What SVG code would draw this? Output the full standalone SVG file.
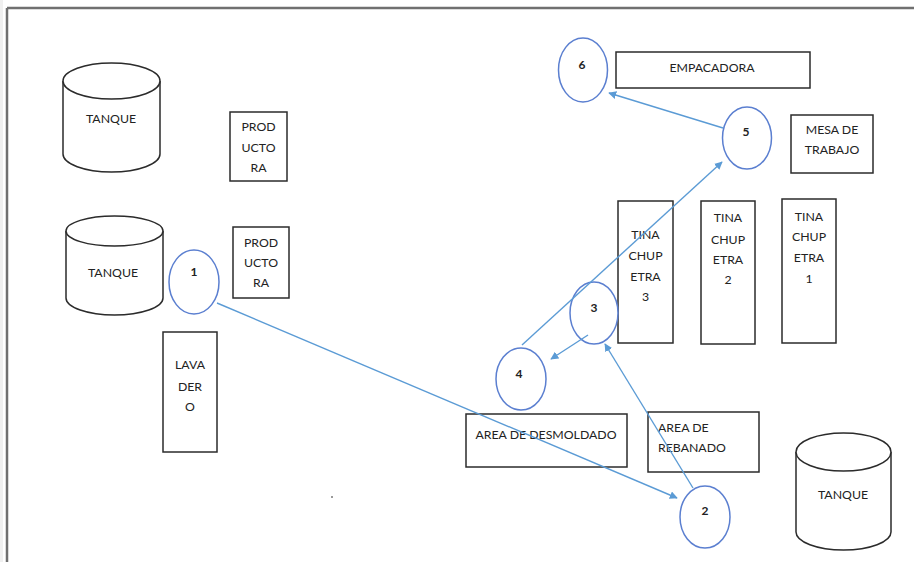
<svg xmlns="http://www.w3.org/2000/svg" width="914" height="562" viewBox="0 0 914 562">
  <style>
    .box { fill: #ffffff; stroke: #2b2b2b; stroke-width: 1.5; }
    .tank { fill: #ffffff; stroke: #2b2b2b; stroke-width: 1.5; }
    .step { fill: #ffffff; stroke: #5b7fd0; stroke-width: 1.5; }
    .lbl { font-family: Lato, "Liberation Sans", sans-serif; font-size: 12.3px; fill: #222222; text-anchor: middle; }
    .num { font-family: Lato, "Liberation Sans", sans-serif; font-size: 12px; font-weight: bold; fill: #222222; text-anchor: middle; }
    .flow { stroke: #5b9bd5; stroke-width: 1.4; fill: none; marker-end: url(#arrow); }
  </style>
  <defs>
    <marker id="arrow" viewBox="0 0 10 10" refX="9" refY="5" markerWidth="8" markerHeight="8" markerUnits="userSpaceOnUse" orient="auto">
      <path d="M0,0 L10,5 L0,10 Z" fill="#5b9bd5"/>
    </marker>
  </defs>

  <rect width="914" height="562" fill="#ffffff"/>
  <!-- page frame -->
  <rect x="0" y="0" width="3" height="562" fill="#f0f0f0"/>
  <line x1="7" y1="8" x2="914" y2="8" stroke="#707070" stroke-width="2.5"/>
  <line x1="7" y1="8" x2="7" y2="562" stroke="#707070" stroke-width="2.5"/>
  <rect x="331" y="496" width="2" height="2" fill="#9a9a9a"/>

  <!-- tanks -->
  <g id="tanque-1">
    <path class="tank" d="M63,81 L63,154 A48.5,18 0 0 0 160,154 L160,81"/>
    <ellipse class="tank" cx="111.5" cy="81" rx="48.5" ry="18"/>
    <text class="lbl" x="111" y="123">TANQUE</text>
  </g>
  <g id="tanque-2">
    <path class="tank" d="M66,231 L66,298 A48.5,17 0 0 0 163,298 L163,231"/>
    <ellipse class="tank" cx="114.5" cy="231" rx="48.5" ry="15"/>
    <text class="lbl" x="113" y="277">TANQUE</text>
  </g>
  <g id="tanque-3">
    <path class="tank" d="M796,452 L796,532 A47.5,18 0 0 0 891,532 L891,452"/>
    <ellipse class="tank" cx="843.5" cy="452" rx="47.5" ry="19"/>
    <text class="lbl" x="843" y="499">TANQUE</text>
  </g>

  <!-- equipment -->
  <g id="productora-1">
    <rect class="box" x="230" y="112" width="57" height="69"/>
    <text class="lbl" x="258.5" y="131">PROD</text>
    <text class="lbl" x="258.5" y="152">UCTO</text>
    <text class="lbl" x="258.5" y="172">RA</text>
  </g>
  <g id="productora-2">
    <rect class="box" x="233" y="227" width="56" height="71"/>
    <text class="lbl" x="261" y="247">PROD</text>
    <text class="lbl" x="261" y="267">UCTO</text>
    <text class="lbl" x="261" y="287">RA</text>
  </g>
  <g id="lavadero">
    <rect class="box" x="163" y="332" width="54" height="120"/>
    <text class="lbl" x="190" y="369">LAVA</text>
    <text class="lbl" x="190" y="391">DER</text>
    <text class="lbl" x="190" y="411">O</text>
  </g>
  <g id="area-desmoldado">
    <rect class="box" x="466" y="414" width="161" height="53"/>
    <text class="lbl" x="546" y="439">AREA DE DESMOLDADO</text>
  </g>
  <g id="area-rebanado">
    <rect class="box" x="648" y="412" width="111" height="60"/>
    <text class="lbl" x="658" y="432" style="text-anchor:start">AREA DE</text>
    <text class="lbl" x="658" y="452" style="text-anchor:start">REBANADO</text>
  </g>
  <g id="tina-3">
    <rect class="box" x="618" y="201" width="55" height="142"/>
    <text class="lbl" x="645.5" y="239">TINA</text>
    <text class="lbl" x="645.5" y="260">CHUP</text>
    <text class="lbl" x="645.5" y="281">ETRA</text>
    <text class="lbl" x="645.5" y="301">3</text>
  </g>
  <g id="tina-2">
    <rect class="box" x="701" y="201" width="54" height="143"/>
    <text class="lbl" x="728" y="222">TINA</text>
    <text class="lbl" x="728" y="244">CHUP</text>
    <text class="lbl" x="728" y="264">ETRA</text>
    <text class="lbl" x="728" y="284">2</text>
  </g>
  <g id="tina-1">
    <rect class="box" x="782" y="199" width="54" height="144"/>
    <text class="lbl" x="809" y="221">TINA</text>
    <text class="lbl" x="809" y="241">CHUP</text>
    <text class="lbl" x="809" y="262">ETRA</text>
    <text class="lbl" x="809" y="283">1</text>
  </g>
  <g id="empacadora">
    <rect class="box" x="616" y="52" width="194" height="36"/>
    <text class="lbl" x="712" y="72">EMPACADORA</text>
  </g>
  <g id="mesa-trabajo">
    <rect class="box" x="791" y="115" width="82" height="58"/>
    <text class="lbl" x="832" y="134">MESA DE</text>
    <text class="lbl" x="832" y="154">TRABAJO</text>
  </g>

  <!-- process steps -->
  <g id="paso-1">
    <ellipse class="step" cx="194" cy="282" rx="25" ry="32"/>
    <text class="num" x="194" y="276">1</text>
  </g>
  <g id="paso-2">
    <ellipse class="step" cx="705" cy="517" rx="25" ry="31"/>
    <text class="num" x="705" y="515">2</text>
  </g>
  <g id="paso-3">
    <ellipse class="step" cx="594" cy="313" rx="24" ry="31"/>
    <text class="num" x="594" y="312">3</text>
  </g>
  <g id="paso-4">
    <ellipse class="step" cx="521" cy="379" rx="25" ry="31"/>
    <text class="num" x="519" y="378">4</text>
  </g>
  <g id="paso-5">
    <ellipse class="step" cx="747" cy="138" rx="24.5" ry="31"/>
    <text class="num" x="746" y="136">5</text>
  </g>
  <g id="paso-6">
    <ellipse class="step" cx="583" cy="70" rx="24.5" ry="32"/>
    <text class="num" x="582" y="69">6</text>
  </g>

  <!-- flow connectors, drawn over the layout -->
  <g id="connectors">
    <line class="flow" x1="217" y1="303" x2="677" y2="498"/>
    <line class="flow" x1="693" y1="488" x2="605" y2="344"/>
    <line class="flow" x1="588" y1="335" x2="551" y2="359"/>
    <line class="flow" x1="522" y1="345" x2="722" y2="162"/>
    <line class="flow" x1="723" y1="128" x2="609" y2="93"/>
  </g>
</svg>
